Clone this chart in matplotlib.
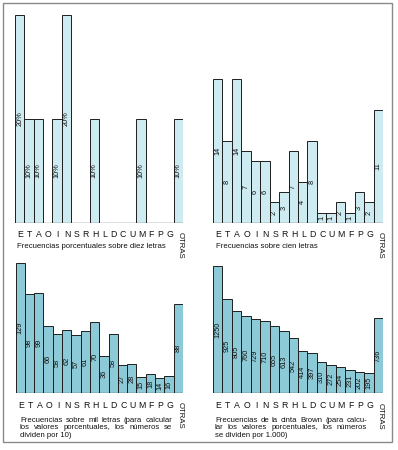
import matplotlib.pyplot as plt
from matplotlib.patches import Rectangle

letras = ['E', 'T', 'A', 'O', 'I', 'N', 'S', 'R', 'H', 'L', 'D', 'C', 'U', 'M', 'F', 'P', 'G']
otras = 'OTRAS'

# valores (el ultimo es OTRAS)
diez = [20, 10, 10, 0, 10, 20, 0, 0, 10, 0, 0, 0, 0, 10, 0, 0, 0, 10]
cien = [14, 8, 14, 7, 6, 6, 2, 3, 7, 4, 8, 1, 1, 2, 1, 3, 2, 11]
mil = [129, 98, 99, 66, 58, 62, 57, 61, 70, 36, 58, 27, 28, 15, 18, 14, 16, 88]
brown = [1250, 925, 805, 760, 729, 710, 655, 613, 542, 414, 397, 310, 272, 254, 231, 202, 195, 736]

cap1 = ['Frecuencias porcentuales sobre diez letras']
cap2 = ['Frecuencias sobre cien letras']
cap3 = ['Frecuencias sobre mil letras (para calcular',
        'los valores porcentuales, los números se',
        'dividen por 10)']
cap4 = ['Frecuencias de la cinta Brown (para calcu-',
        'lar los valores porcentuales, los números',
        'se dividen por 1.000)']

plt.rcParams['font.family'] = ['Liberation Sans', 'DejaVu Sans']

W, H = 398, 450
fig = plt.figure(figsize=(W / 100, H / 100), dpi=100)
rend = fig.canvas.get_renderer()

claro = '#cdebf0'
oscuro = '#8dcad8'
borde = '#1e1e1e'
fs_cap = 5.6


def px_axes(x0, x1, base, top):
    return fig.add_axes([x0 / W, (H - base) / H, (x1 - x0) / W, (base - top) / H])


def panel(ax, vals, ymax, color, fmt, off):
    xs = range(len(vals))
    ax.bar(xs, vals, width=1, align='edge', color=color, edgecolor=borde, linewidth=0.7)
    ax.set_xlim(0, len(vals))
    ax.set_ylim(0, ymax)
    ax.axhline(0, color=borde, lw=0.9)
    ax.axis('off')
    for i, v in enumerate(vals):
        if v:
            ax.text(i + 0.5, v / 2, fmt(v), rotation=90, ha='center', va='center',
                    fontsize=5.3, color='#111')
    for i, l in enumerate(letras):
        ax.annotate(l, xy=(i + 0.5, 0), xycoords=('data', 'axes fraction'),
                    xytext=(0.5, -off), textcoords='offset points',
                    ha='center', va='center', fontsize=6.3, color='#111')
    ax.annotate(otras, xy=(len(vals) - 0.5, 0), xycoords=('data', 'axes fraction'),
                xytext=(1.5, -off + 2.2), textcoords='offset points', rotation=-90,
                ha='center', va='top', fontsize=5.6, color='#111')


def caption(x, y, lines, width=None):
    for k, line in enumerate(lines):
        yy = y + k * 7.6
        if width is None or k == len(lines) - 1:
            fig.text(x / W, 1 - yy / H, line, fontsize=fs_cap, va='center', color='#111')
            continue
        words = line.split()
        ts = [fig.text(0, 0, w, fontsize=fs_cap, va='center', color='#111') for w in words]
        ws = [t.get_window_extent(rend).width for t in ts]
        gap = (width - sum(ws)) / (len(words) - 1)
        cx = x
        for t, w in zip(ts, ws):
            t.set_position((cx / W, 1 - yy / H))
            cx += w + gap


ax1 = px_axes(15, 183, 223, 15)
panel(ax1, diez, 20, claro, lambda v: '%d%%' % v, 8.6)
ax2 = px_axes(213, 383, 223, 17)
panel(ax2, cien, 20, claro, str, 8.6)
ax3 = px_axes(15.5, 183, 392.5, 261.5)
panel(ax3, mil, 130, oscuro, str, 9.2)
ax4 = px_axes(213, 383, 393, 261)
panel(ax4, brown, 1300, oscuro, str, 9.2)

caption(17, 247, cap1)
caption(216, 247, cap2)
caption(20, 420, cap3, width=152)
caption(215, 420, cap4, width=152)

fig.add_artist(Rectangle((3 / W, (H - 442) / H), 389 / W, 439 / H, transform=fig.transFigure,
                         fill=False, ec='#8a8a8a', lw=1))

fig.savefig('out.png', dpi=100)
